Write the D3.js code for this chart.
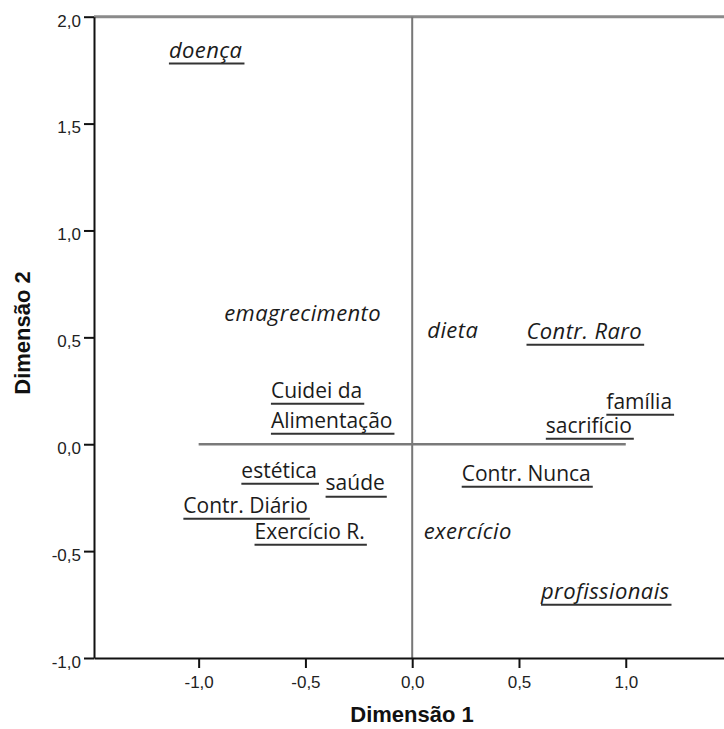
<!DOCTYPE html>
<html>
<head>
<meta charset="utf-8">
<script src="https://cdn.jsdelivr.net/npm/d3@7"></script>
<style>
  html, body { margin: 0; padding: 0; background: #fff; }
  svg { display: block; }
</style>
</head>
<body>
<svg id="chart" width="724" height="729"></svg>
<script>
// ---- data ----
const labels = ["doença", "emagrecimento", "dieta", "Contr. Raro", "Cuidei da\nAlimentação",
  "estética", "saúde", "Contr. Diário", "Exercício R.", "família", "sacrifício",
  "Contr. Nunca", "exercício", "profissionais"];
const dim1 = [-0.967, -0.513, 0.190, 0.806, -0.377, -0.623, -0.267, -0.780, -0.480, 1.063, 0.827, 0.534, 0.260, 0.904];
const dim2 = [1.844, 0.613, 0.533, 0.529, 0.182, -0.122, -0.182, -0.285, -0.407, 0.201, 0.089, -0.136, -0.407, -0.688];
// category group of each label (1 = italic underlined, 2 = italic, 3 = underlined)
const group = [1, 2, 2, 1, 3, 3, 3, 3, 3, 3, 3, 3, 2, 1];
const xTicks = [-1, -0.5, 0, 0.5, 1];
const xTickLabels = ["-1,0", "-0,5", "0,0", "0,5", "1,0"];
const yTicks = [-1, -0.5, 0, 0.5, 1, 1.5, 2];
const yTickLabels = ["-1,0", "-0,5", "0,0", "0,5", "1,0", "1,5", "2,0"];
const xTitle = "Dimensão 1";
const yTitle = "Dimensão 2";

// ---- styles per group ----
const groupStyle = {
  1: { italic: true, underline: true },
  2: { italic: true, underline: false },
  3: { italic: false, underline: true }
};

const svg = d3.select("#chart");
const x = d3.scaleLinear().domain([-1.49, 1.46]).range([94, 724]);
const y = d3.scaleLinear().domain([-1, 2]).range([658, 16.7]);

const tickFont = "'Liberation Sans', Arial, sans-serif";
const labelFont = "'Open Sans', 'Noto Sans', sans-serif";
const ink = "#1b1b1b";

// top frame line
svg.append("line")
  .attr("x1", x(-1.49)).attr("x2", x(1.46))
  .attr("y1", y(2)).attr("y2", y(2))
  .attr("stroke", "#8a8a8a").attr("stroke-width", 3);

// reference lines
svg.append("line")
  .attr("x1", x(0)).attr("x2", x(0))
  .attr("y1", y(2)).attr("y2", y(-1))
  .attr("stroke", "#777").attr("stroke-width", 2);
svg.append("line")
  .attr("x1", x(-1)).attr("x2", x(1))
  .attr("y1", y(0)).attr("y2", y(0))
  .attr("stroke", "#7a7a7a").attr("stroke-width", 2.5);

// axes
const xAxis = d3.axisBottom(x).tickValues(xTicks)
  .tickFormat((d, i) => xTickLabels[i]).tickSize(10).tickSizeOuter(0).tickPadding(8);
const gx = svg.append("g").attr("transform", `translate(0,${y(-1)})`).call(xAxis);
gx.select(".domain").attr("stroke", "#111").attr("stroke-width", 2);
gx.selectAll(".tick line").attr("stroke", "#111").attr("stroke-width", 2);
gx.selectAll(".tick text").attr("font-family", tickFont).attr("font-size", 17).attr("fill", "#222");

const yAxis = d3.axisLeft(y).tickValues(yTicks)
  .tickFormat((d, i) => yTickLabels[i]).tickSize(10).tickSizeOuter(0).tickPadding(3);
const gy = svg.append("g").attr("transform", `translate(${x(-1.49)},0)`).call(yAxis);
gy.select(".domain").attr("stroke", "#111").attr("stroke-width", 2);
gy.selectAll(".tick line").attr("stroke", "#111").attr("stroke-width", 2);
gy.selectAll(".tick text").attr("font-family", tickFont).attr("font-size", 17)
  .attr("fill", "#222").attr("dy", "0.55em");

// axis titles
svg.append("text")
  .attr("x", 412).attr("y", 722)
  .attr("text-anchor", "middle")
  .attr("font-family", tickFont).attr("font-weight", "bold").attr("font-size", 22)
  .attr("fill", "#111").text(xTitle);
svg.append("text")
  .attr("transform", "translate(30,333) rotate(-90)")
  .attr("text-anchor", "middle")
  .attr("font-family", tickFont).attr("font-weight", "bold").attr("font-size", 22)
  .attr("fill", "#111").text(yTitle);

// point labels
const lineGap = 30;
labels.forEach((lab, i) => {
  const st = groupStyle[group[i]];
  const fs = st.italic ? 22 : 21;
  const lines = lab.split("\n");
  const cx = x(dim1[i]), cy = y(dim2[i]);
  const g = svg.append("g");
  const texts = lines.map((ln, k) => g.append("text")
    .attr("font-family", labelFont).attr("font-size", fs)
    .attr("font-style", st.italic ? "italic" : "normal")
    .attr("letter-spacing", st.italic ? 0.4 : 0)
    .attr("fill", ink)
    .attr("dy", "0.35em")
    .text(ln));
  const widths = texts.map(t => t.node().getComputedTextLength());
  const maxW = d3.max(widths);
  const left = cx - maxW / 2;
  texts.forEach((t, k) => {
    const ly = cy + (k - (lines.length - 1) / 2) * lineGap;
    t.attr("x", left).attr("y", ly);
    if (st.underline) {
      g.append("line")
        .attr("x1", left).attr("x2", left + widths[k] + 2)
        .attr("y1", ly + 7.5 + 6).attr("y2", ly + 7.5 + 6)
        .attr("stroke", "#333").attr("stroke-width", 2);
    }
  });
});
</script>
</body>
</html>
